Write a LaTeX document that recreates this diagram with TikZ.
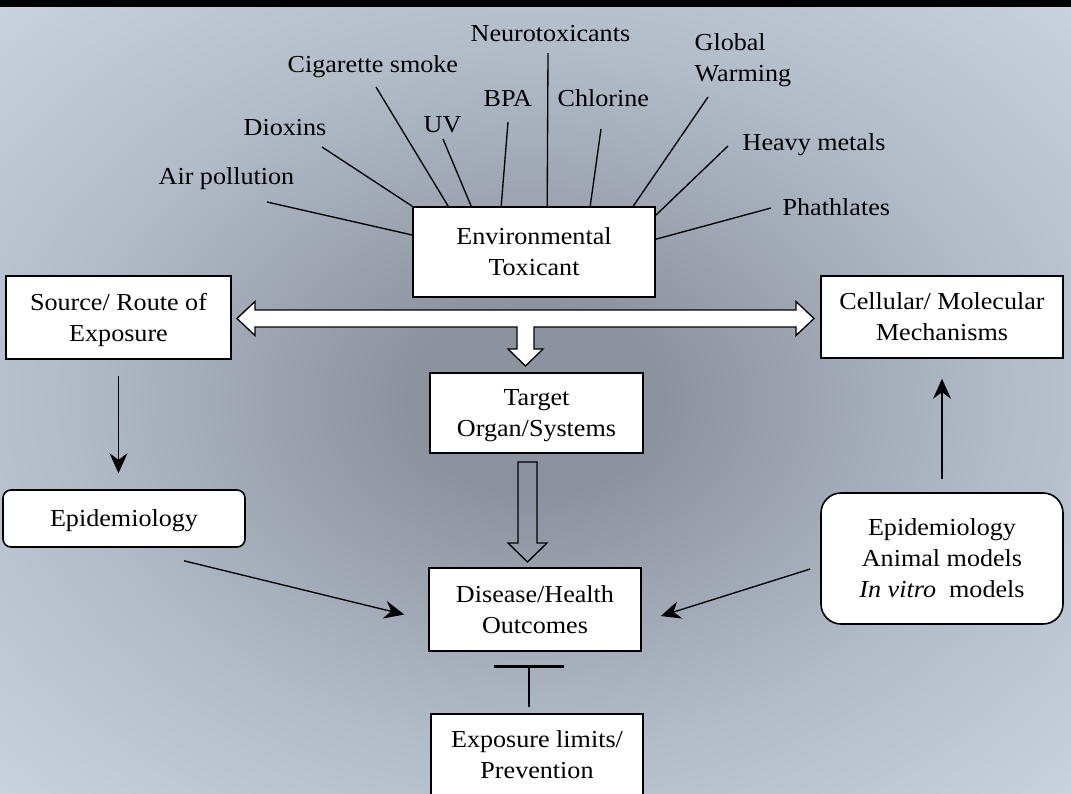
\documentclass[tikz,border=0pt]{standalone}
\usepackage{fontspec}
\setmainfont[FakeStretch=1.07]{Liberation Serif}
\usetikzlibrary{arrows.meta,calc}
\newcommand{\pxu}{0.75pt}
\definecolor{bgcore}{RGB}{139,147,158}
\definecolor{bgmid}{RGB}{178,188,201}
\definecolor{bgedge}{RGB}{207,218,230}
\definecolor{bgcorner}{RGB}{221,232,244}
\pgfdeclareradialshading{backglow}{\pgfpoint{0bp}{0bp}}{color(0bp)=(bgcore); color(6bp)=(bgcore); color(22bp)=(bgmid); color(40bp)=(bgedge); color(55bp)=(bgcorner); color(71bp)=(bgcorner)}
\begin{document}
\begin{tikzpicture}[x=\pxu,y=-\pxu,>={Stealth[length=15pt,width=13.5pt,inset=5pt]},
  font=\fontsize{18.3pt}{23.25pt}\selectfont,line width=1pt,
  box/.style={draw,fill=white,line width=1.2pt,align=center,inner sep=0pt,text depth=0pt},
  lbl/.style={inner sep=0pt,anchor=base west}]
\useasboundingbox (0,0) rectangle (1071,793);
\clip (0,0) rectangle (1071,793);
\shade[shading=backglow] (0,7) rectangle (1071,793);
\fill[black] (0,0) rectangle (1071,7);

\node[box,minimum width=242*\pxu,minimum height=90*\pxu] (env) at (534,252) {Environmental\\Toxicant};
\node[box,minimum width=225*\pxu,minimum height=83*\pxu] (src) at (118.5,317.5) {Source/ Route of\\Exposure};
\node[box,minimum width=242*\pxu,minimum height=82*\pxu] (cell) at (942,317) {Cellular/ Molecular\\Mechanisms};
\node[box,minimum width=213*\pxu,minimum height=80*\pxu] (tgt) at (536.5,413) {Target\\Organ/Systems};
\node[box,minimum width=212*\pxu,minimum height=83*\pxu] (dis) at (535,609.5) {Disease/Health\\Outcomes};
\node[box,minimum width=212*\pxu,minimum height=82*\pxu] (lim) at (537,755) {Exposure limits/\\Prevention};
\node[box,rounded corners=6pt,minimum width=242*\pxu,minimum height=57*\pxu] (epi) at (124,518.5) {Epidemiology};
\node[box,rounded corners=15pt,minimum width=242*\pxu,minimum height=131*\pxu] (mod) at (942,558.5) {Epidemiology\\Animal models\\\textit{In vitro}~ models};

\node[lbl] (air) at (158,184) {Air pollution};
\node[lbl] (diox) at (243,135) {Dioxins};
\node[lbl] (cig) at (287,72) {Cigarette smoke};
\node[lbl] (uv) at (423,132) {UV};
\node[lbl] (bpa) at (483,106) {BPA};
\node[lbl] (neuro) at (470,41) {Neurotoxicants};
\node[lbl] (chl) at (557,106) {Chlorine};
\node[lbl,align=left,anchor=south west,text depth=0pt] (glob) at (694,82) {Global\\Warming};
\node[lbl] (heavy) at (742,150) {Heavy metals};
\node[lbl] (phat) at (782,215) {Phathlates};

\foreach \n/\a/\b in {air/267/202,diox/322/147,cig/376/87,uv/443/139,bpa/508/122,neuro/548/53,chl/601/129,glob/708/97,heavy/728/146,phat/771/208}
  \coordinate (\n-tail) at (\a,\b);
\draw (air-tail) -- ($(env.west)+(0,-17)$);
\draw (diox-tail) -- (env.north west);
\draw (cig-tail) -- ($(env.north west)+(36,0)$);
\draw (uv-tail) -- ($(env.north west)+(59,0)$);
\draw (bpa-tail) -- ($(env.north west)+(89,0)$);
\draw (neuro-tail) -- ($(env.north west)+(135,0)$);
\draw (chl-tail) -- ($(env.north west)+(178,0)$);
\draw (glob-tail) -- ($(env.north west)+(221,0)$);
\draw (heavy-tail) -- ($(env.north east)+(0,9)$);
\draw (phat-tail) -- ($(env.north east)+(0,33)$);

\draw[fill=white] (237,318.5) -- (255,301.5) -- (255,310) -- (796,310) -- (796,301.5) -- (814,318.5) -- (796,335.5) -- (796,327) -- (534,327) -- (534,349) -- (543,349) -- (525.5,366) -- (508,349) -- (517,349) -- (517,327) -- (255,327) -- (255,335.5) -- cycle;
\draw (518,462) -- (537,462) -- (537,543) -- (547,543) -- (527.5,562) -- (508,543) -- (518,543) -- cycle;

\draw[->,shorten <=12pt,shorten >=12pt] (src.south) -- (src.south |- epi.north);
\draw[->,shorten <=10pt,shorten >=15pt] (mod.north) -- (mod.north |- cell.south);
\draw[->] ($(epi.south)+(60,13)$) -- ($(dis.west)+(-24,5)$);
\draw[->] ($(mod.west)+(-10,10.5)$) -- ($(dis.east)+(19,6.5)$);
\draw[-{Bar[width=52pt]},line width=2.2pt] ($(lim.north)+(-8,-6)$) -- ($(dis.south)+(-6,13)$);
\end{tikzpicture}
\end{document}
